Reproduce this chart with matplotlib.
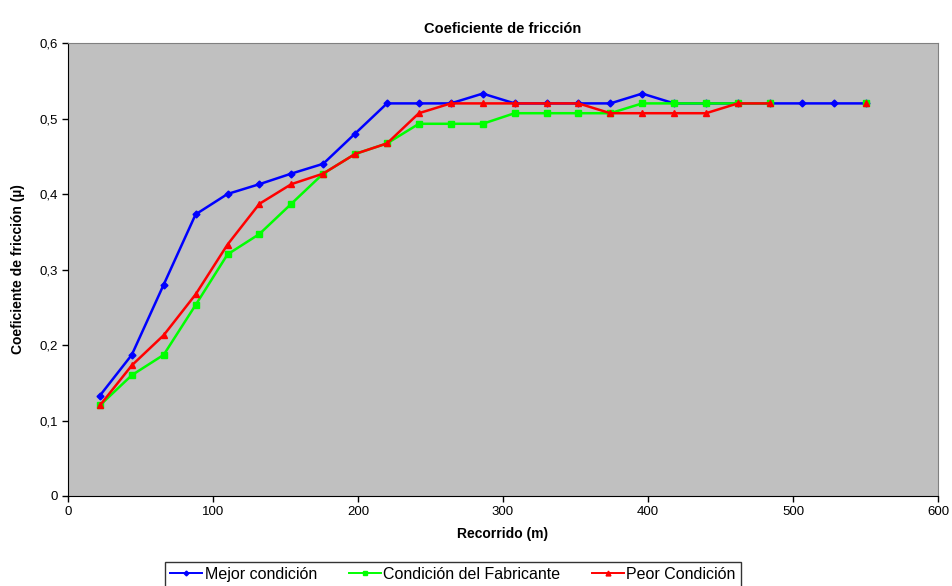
import numpy as np
import matplotlib.pyplot as plt
from matplotlib.ticker import FuncFormatter

plt.rcParams['font.family'] = ['Liberation Sans', 'DejaVu Sans']

recorrido = [22, 44, 66, 88, 110, 132, 154, 176, 198, 220, 242, 264, 286,
             308, 330, 352, 374, 396, 418, 440, 462, 484, 506, 528, 550]
mejor = [0.133, 0.187, 0.28, 0.373, 0.4, 0.413, 0.427, 0.44, 0.48, 0.52,
         0.52, 0.52, 0.533, 0.52, 0.52, 0.52, 0.52, 0.533, 0.52, 0.52,
         0.52, 0.52, 0.52, 0.52, 0.52]
fabricante = [0.12, 0.16, 0.187, 0.253, 0.32, 0.347, 0.387, 0.427, 0.453, 0.467,
              0.493, 0.493, 0.493, 0.507, 0.507, 0.507, 0.507, 0.52, 0.52, 0.52,
              0.52, 0.52, np.nan, np.nan, 0.52]
peor = [0.12, 0.173, 0.213, 0.267, 0.333, 0.387, 0.413, 0.427, 0.453, 0.467,
        0.507, 0.52, 0.52, 0.52, 0.52, 0.52, 0.507, 0.507, 0.507, 0.507,
        0.52, 0.52, np.nan, np.nan, 0.52]

fig = plt.figure(figsize=(9.52, 5.86), dpi=100)
ax = fig.add_axes([68/952, 1 - 496/586, 870/952, 453/586])
ax.set_facecolor('#C0C0C0')

ax.plot(recorrido, mejor, color='#0000FF', lw=1.8, marker='D', ms=3.5,
        label='Mejor condición')
ax.plot(recorrido, fabricante, color='#00FF00', lw=1.8, marker='s', ms=4,
        label='Condición del Fabricante')
ax.plot(recorrido, peor, color='#FF0000', lw=1.8, marker='^', ms=5,
        label='Peor Condición')

ax.set_xlim(0, 600)
ax.set_ylim(0, 0.6)
ax.set_xticks(range(0, 601, 100))
ax.set_yticks(np.arange(0, 0.61, 0.1))
ax.yaxis.set_major_formatter(FuncFormatter(lambda v, p: ('%.1f' % v).replace('.', ',') if v != 0 else '0'))
ax.tick_params(labelsize=9.5, direction='out', length=4, width=1)

for side in ['top', 'right']:
    ax.spines[side].set_color('#808080')
for side in ['left', 'bottom']:
    ax.spines[side].set_color('black')

ax.set_title('Coeficiente de fricción', fontsize=10.5, fontweight='bold', pad=7)
ax.set_xlabel('Recorrido (m)', fontsize=10, fontweight='bold', labelpad=6)
ax.set_ylabel('Coeficiente de fricción (µ)', fontsize=10, fontweight='bold', labelpad=10)

leg = fig.legend(loc='upper center', bbox_to_anchor=(453/952, 1 - 562/586), ncol=3,
                 fontsize=11.5, frameon=True, fancybox=False, edgecolor='black',
                 handlelength=2.0, handletextpad=0.15, columnspacing=2.0,
                 borderpad=0.3, borderaxespad=0, markerscale=0.7)
leg.get_frame().set_linewidth(1)
for line in leg.get_lines():
    line.set_linewidth(1.4)

fig.savefig('out.png', dpi=100)
